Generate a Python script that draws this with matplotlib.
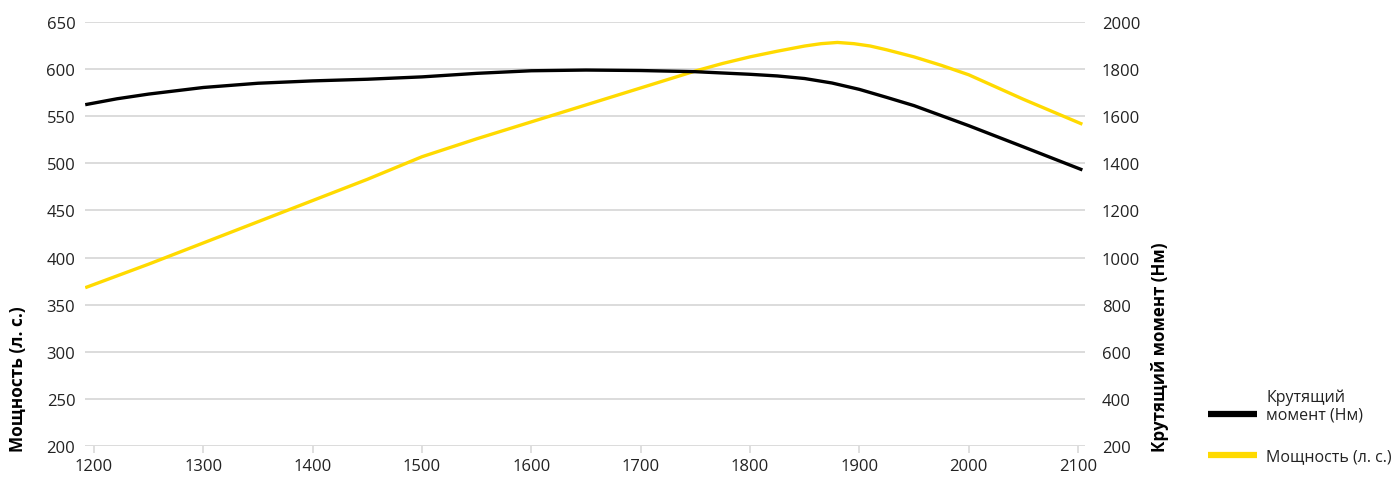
import matplotlib
matplotlib.use("Agg")
import matplotlib.pyplot as plt
from matplotlib.lines import Line2D

plt.rcParams['font.family'] = ['Open Sans', 'DejaVu Sans']

# Data
rpm_power = [1192, 1250, 1300, 1350, 1400, 1450, 1500, 1550, 1600, 1650, 1700, 1750,
             1775, 1800, 1825, 1850, 1865, 1880, 1895, 1910, 1925, 1950, 1975, 2000,
             2050, 2104]
power_hp = [368, 393, 415.5, 438, 460.5, 483, 507, 526, 544, 562, 580, 598,
            606, 613, 619, 624.5, 627, 628.3, 627, 624.5, 620.5, 613, 604, 594,
            568, 541.5]

rpm_torque = [1192, 1221, 1250, 1300, 1350, 1400, 1450, 1500, 1550, 1600, 1650, 1700,
              1750, 1800, 1825, 1850, 1875, 1900, 1925, 1950, 2000, 2050, 2104]
torque_nm = [1649, 1674, 1694, 1722, 1740, 1750, 1757, 1767, 1782, 1793, 1796, 1794,
             1789, 1778, 1771, 1760, 1741, 1714, 1680, 1645, 1560, 1470, 1372]

x_ticks = [1200, 1300, 1400, 1500, 1600, 1700, 1800, 1900, 2000, 2100]
left_ticks = [200, 250, 300, 350, 400, 450, 500, 550, 600, 650]
right_ticks = [200, 400, 600, 800, 1000, 1200, 1400, 1600, 1800, 2000]

left_label = "Мощность (л. с.)"
right_label = "Крутящий момент (Нм)"
legend_labels = ["Крутящий\nмомент (Нм)", "Мощность (л. с.)"]

BLACK = "#000000"
YELLOW = "#FFDA00"
GRID = "#d9d9d9"
TXT = "#222222"

W, H = 1395, 485
fig = plt.figure(figsize=(W / 100, H / 100), dpi=100)
ax = fig.add_axes([85 / W, 1 - 447 / H, 1000 / W, 424 / H])
ax2 = ax.twinx()

ax.plot(rpm_power, power_hp, color=YELLOW, lw=2.4, solid_capstyle='butt',
        solid_joinstyle='round', zorder=3)
ax2.plot(rpm_torque, torque_nm, color=BLACK, lw=2.4, solid_capstyle='butt',
         solid_joinstyle='round', zorder=3)

ax.set_xlim(1191.8, 2106.4)
ax.set_ylim(200, 650)
ax2.set_ylim(200, 2000)

ax.set_xticks(x_ticks)
ax.set_yticks(left_ticks)
ax2.set_yticks(right_ticks)

ax.grid(axis='y', color=GRID, lw=1.3)
ax.set_axisbelow(True)
for a in (ax, ax2):
    for s in a.spines.values():
        s.set_visible(False)

ax.tick_params(axis='x', length=5, width=1.2, color=GRID, pad=4, labelsize=12, labelcolor=TXT)
ax.tick_params(axis='y', length=0, pad=7, labelsize=12, labelcolor=TXT)
ax2.tick_params(axis='y', length=0, pad=12, labelsize=12, labelcolor=TXT)

ax2.set_zorder(ax.get_zorder() + 1)
ax.patch.set_visible(True)
ax2.patch.set_visible(False)

fig.text(18 / W, 1 - 452 / H, left_label, rotation=90, ha='center', va='bottom',
         fontsize=12.4, fontweight='bold', color=BLACK)
fig.text(1160 / W, 1 - 452 / H, right_label, rotation=90, ha='center', va='bottom',
         fontsize=12.2, fontweight='bold', color=BLACK)

# Legend (drawn in figure coordinates)
legend_colors = [BLACK, YELLOW]
swatch_y = [415, 456]
text_y = [406.5, 457]
for col, sy, ty, lab in zip(legend_colors, swatch_y, text_y, legend_labels):
    fig.add_artist(Line2D([1208 / W, 1257 / W], [1 - sy / H, 1 - sy / H],
                          transform=fig.transFigure, color=col, lw=4.5,
                          solid_capstyle='butt'))
    fig.text(1266 / W, 1 - ty / H, lab, ha='left', va='center', fontsize=11.5,
             color=TXT, linespacing=1.15)

fig.savefig("out.png", dpi=100)
